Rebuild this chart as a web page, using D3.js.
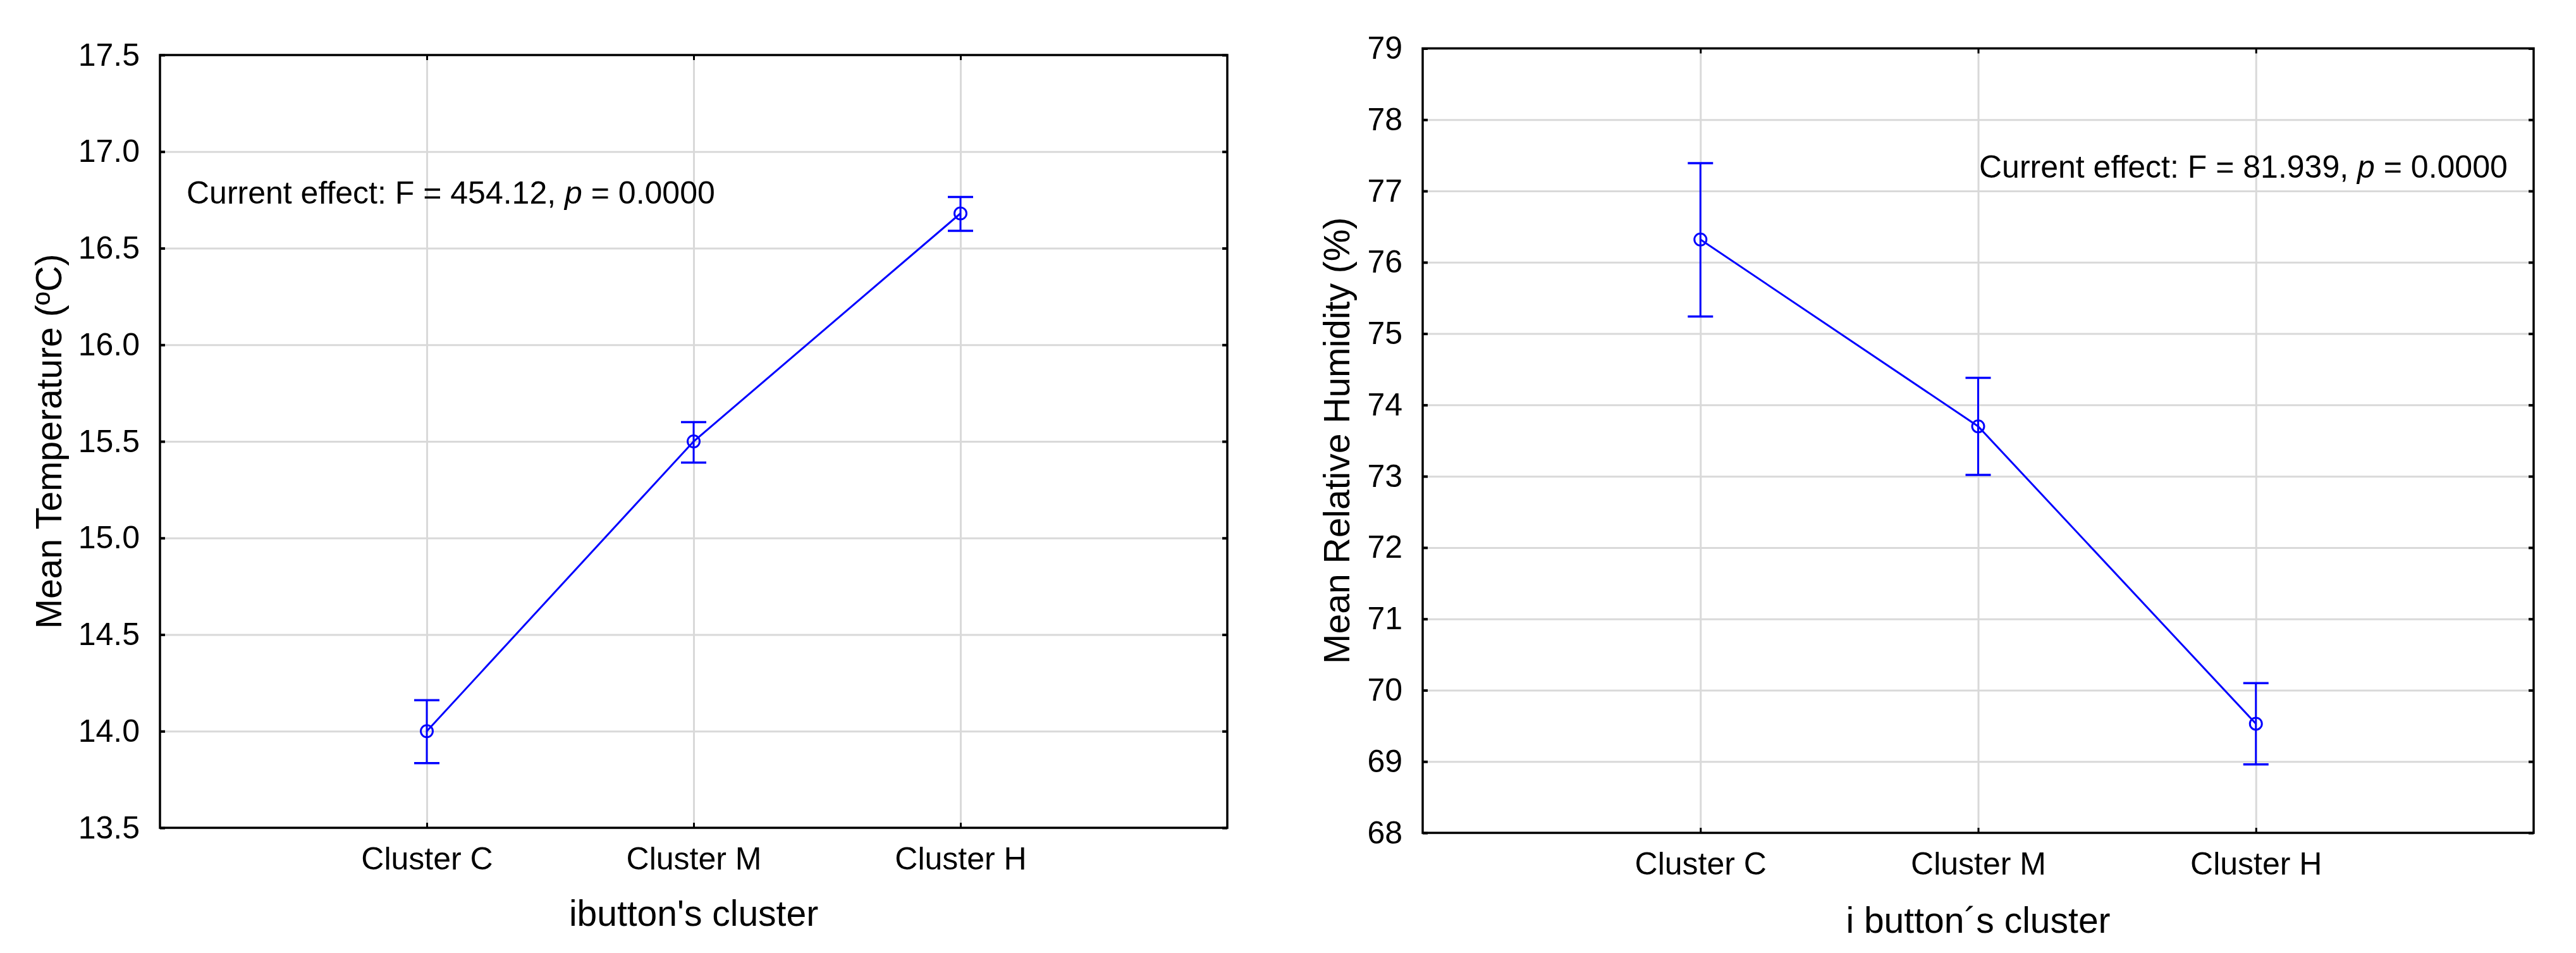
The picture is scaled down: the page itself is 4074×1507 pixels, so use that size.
<!DOCTYPE html>
<html><head><meta charset="utf-8">
<script src="https://cdn.jsdelivr.net/npm/d3@7"></script>
<style>
html,body{margin:0;padding:0;background:#fff;}
svg{display:block;font-family:"Liberation Sans",Arial,sans-serif;}
</style></head><body>
<svg id="c" width="4074" height="1507"></svg>
<script>
// ---- data ----
const categories = ["Cluster C", "Cluster M", "Cluster H"];
const tempMean  = [14.00, 15.50, 16.68];
const tempLow   = [13.835, 15.39, 16.59];
const tempHigh  = [14.16, 15.60, 16.765];
const tempTicks = [13.5, 14.0, 14.5, 15.0, 15.5, 16.0, 16.5, 17.0, 17.5];
const humMean   = [76.32, 73.70, 69.53];
const humLow    = [75.24, 73.02, 68.96];
const humHigh   = [77.39, 74.38, 70.10];
const humTicks  = [68, 69, 70, 71, 72, 73, 74, 75, 76, 77, 78, 79];

const svg = d3.select("#c");
svg.append("rect").attr("width",4074).attr("height",1507).attr("fill","#fff");

function panel(o){
  const g = svg.append("g");
  const x = d3.scalePoint().domain(categories).range([o.left,o.right]).padding(1);
  const y = d3.scaleLinear().domain(o.domain).range([o.bottom,o.top]);
  const W = o.right-o.left, H = o.bottom-o.top;

  // gridlines
  const gy = g.append("g").attr("transform",`translate(${o.left},0)`)
    .call(d3.axisLeft(y).tickValues(o.ticks).tickSize(-W).tickFormat(""));
  gy.select(".domain").remove();
  gy.selectAll("line").attr("stroke","#d9d9d9").attr("stroke-width",3);
  const gx = g.append("g").attr("transform",`translate(0,${o.bottom})`)
    .call(d3.axisBottom(x).tickSize(-H).tickFormat(""));
  gx.select(".domain").remove();
  gx.selectAll("line").attr("stroke","#d9d9d9").attr("stroke-width",3);

  // inward ticks on all four sides
  const tk = 8;
  const aL = g.append("g").attr("transform",`translate(${o.left},0)`)
    .call(d3.axisLeft(y).tickValues(o.ticks).tickSizeInner(-tk).tickSizeOuter(0).tickPadding(24+tk).tickFormat(o.fmt));
  aL.select(".domain").remove();
  aL.selectAll("line").attr("stroke","#000").attr("stroke-width",4);
  aL.selectAll("text").attr("font-size",50).attr("fill","#000")
    .attr("font-family","Liberation Sans, Arial, sans-serif");
  const aR = g.append("g").attr("transform",`translate(${o.right},0)`)
    .call(d3.axisRight(y).tickValues(o.ticks).tickSizeInner(-tk).tickSizeOuter(0).tickFormat(""));
  aR.select(".domain").remove();
  aR.selectAll("line").attr("stroke","#000").attr("stroke-width",4);
  const aB = g.append("g").attr("transform",`translate(0,${o.bottom})`)
    .call(d3.axisBottom(x).tickSizeInner(-tk).tickSizeOuter(0).tickPadding(0));
  aB.select(".domain").remove();
  aB.selectAll("line").attr("stroke","#000").attr("stroke-width",3);
  aB.selectAll("text").attr("y",66).attr("dy",null).attr("font-size",50).attr("fill","#000")
    .attr("font-family","Liberation Sans, Arial, sans-serif");
  const aT = g.append("g").attr("transform",`translate(0,${o.top})`)
    .call(d3.axisTop(x).tickSizeInner(-tk).tickSizeOuter(0).tickFormat(""));
  aT.select(".domain").remove();
  aT.selectAll("line").attr("stroke","#000").attr("stroke-width",3);

  // frame
  g.append("rect").attr("x",o.left).attr("y",o.top).attr("width",W).attr("height",H)
    .attr("fill","none").attr("stroke","#000").attr("stroke-width",3.5);

  // data line
  const pts = categories.map((c,i)=>({c, m:o.mean[i], lo:o.low[i], hi:o.high[i]}));
  g.append("path").datum(pts)
    .attr("d", d3.line().x(d=>x(d.c)).y(d=>y(d.m)))
    .attr("fill","none").attr("stroke","#0000ff").attr("stroke-width",3);
  const cap = 20;
  const eb = g.selectAll(".eb").data(pts).enter().append("g");
  eb.append("line").attr("x1",d=>x(d.c)).attr("x2",d=>x(d.c))
    .attr("y1",d=>y(d.lo)).attr("y2",d=>y(d.hi)).attr("stroke","#0000ff").attr("stroke-width",3);
  eb.append("line").attr("x1",d=>x(d.c)-cap).attr("x2",d=>x(d.c)+cap)
    .attr("y1",d=>y(d.hi)).attr("y2",d=>y(d.hi)).attr("stroke","#0000ff").attr("stroke-width",3.5);
  eb.append("line").attr("x1",d=>x(d.c)-cap).attr("x2",d=>x(d.c)+cap)
    .attr("y1",d=>y(d.lo)).attr("y2",d=>y(d.lo)).attr("stroke","#0000ff").attr("stroke-width",3.5);
  eb.append("circle").attr("cx",d=>x(d.c)).attr("cy",d=>y(d.m)).attr("r",9.5)
    .attr("fill","none").attr("stroke","#0000ff").attr("stroke-width",3);

  // axis titles
  g.append("text").attr("x",(o.left+o.right)/2).attr("y",o.bottom+o.xTitleDy)
    .attr("text-anchor","middle").attr("font-size",57).attr("fill","#000").text(o.xTitle);
  g.append("text").attr("transform",`translate(${o.yTitleX},${(o.top+o.bottom)/2}) rotate(-90)`)
    .attr("text-anchor","middle").attr("font-size",57).attr("fill","#000").text(o.yTitle);

  // annotation
  const t = g.append("text").attr("x",o.annX).attr("y",o.annY).attr("font-size",50).attr("fill","#000");
  t.append("tspan").text(o.annA);
  t.append("tspan").attr("font-style","italic").text("p");
  t.append("tspan").text(" = 0.0000");
}

panel({left:253, right:1941, top:87, bottom:1309, domain:[13.5,17.5], ticks:tempTicks,
  fmt:d3.format(".1f"), mean:tempMean, low:tempLow, high:tempHigh,
  xTitle:"ibutton's cluster", xTitleDy:155, yTitle:"Mean Temperature (ºC)", yTitleX:97,
  annX:295, annY:322, annA:"Current effect: F = 454.12, "});

panel({left:2250, right:4007, top:76.5, bottom:1317, domain:[68,79], ticks:humTicks,
  fmt:d3.format("d"), mean:humMean, low:humLow, high:humHigh,
  xTitle:"i button\u00b4s cluster", xTitleDy:158, yTitle:"Mean Relative Humidity (%)", yTitleX:2134,
  annX:3130, annY:281, annA:"Current effect: F = 81.939, "});
</script>
</body></html>
